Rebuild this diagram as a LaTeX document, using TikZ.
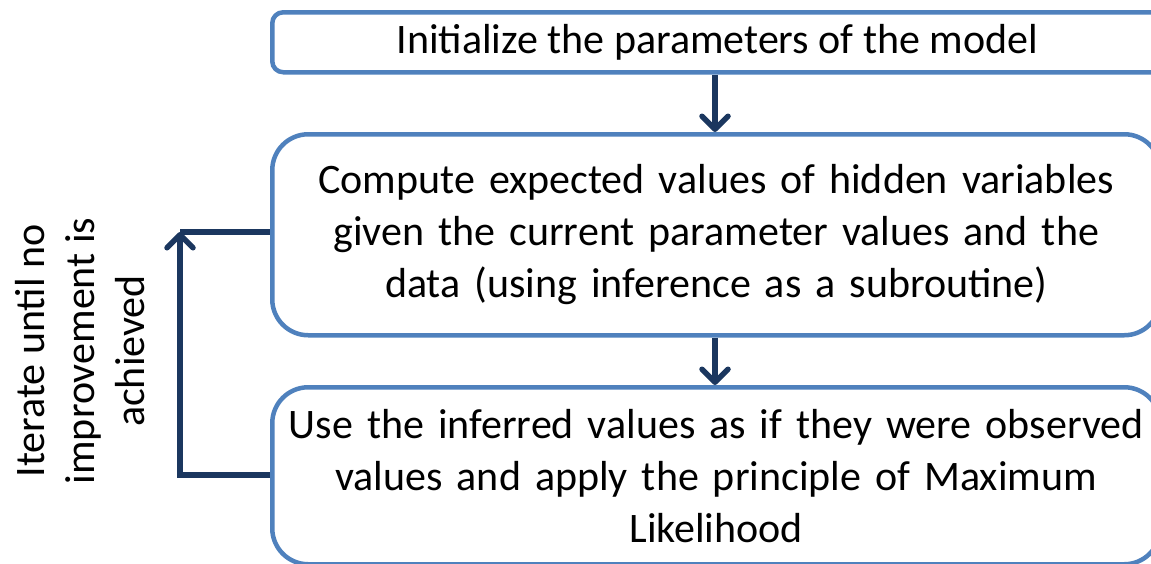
\documentclass[tikz,border=0pt]{standalone}
\usepackage{fontspec}
\setmainfont{Carlito}
\usetikzlibrary{arrows.meta}
\definecolor{boxline}{HTML}{4F81BD}
\definecolor{flowline}{HTML}{1B375F}
\begin{document}
\begin{tikzpicture}[x=1pt,y=-1pt,
  stepbox/.style={draw=boxline, line width=4.5pt, fill=white, align=center,
    anchor=north west, inner sep=0pt,
    font=\fontsize{42}{52}\selectfont},
  flow/.style={draw=flowline, line width=5.5pt},
  arr/.style={flow, -{Straight Barb[length=13pt,width=26pt,round]}},
  note/.style={align=center, font=\fontsize{42}{50}\selectfont}]
  \useasboundingbox (0,0) rectangle (1151,563);
  \begin{scope}
    \clip (0,0) rectangle (1151,563);
    % the three stages of the procedure
    \node[stepbox, rounded corners=11pt, minimum width=890pt, minimum height=60pt]
      (init) at (270,10) {Initialize the parameters of the model};
    \node[stepbox, rounded corners=36pt, minimum width=888pt, minimum height=201pt,
      text width=870pt] (estep) at (270,132)
      {Compute expected values of hidden variables\\
       given the current parameter values and the\\
       data (using inference as a subroutine)};
    \node[stepbox, rounded corners=36pt, minimum width=888pt, minimum height=177pt,
      text width=870pt] (mstep) at (270,385)
      {Use the inferred values as if they were observed\\
       values and apply the principle of Maximum\\
       Likelihood};
    % flow between the stages
    \draw[arr] (init.south -| 715,0) -- (estep.north -| 715,0);
    \draw[arr] (estep.south -| 715,0) -- (mstep.north -| 715,0);
    % loop back
    \coordinate (looptop) at (180,232);
    \draw[arr, line cap=butt] (mstep.west |- 0,475) -- (looptop |- 0,475) -- (looptop);
    \draw[flow] (looptop) -- (estep.west |- looptop);
  \end{scope}
  \node[note, rotate=90] (loopnote) at (80,351)
    {Iterate until no\\ improvement is\\ achieved};
\end{tikzpicture}
\end{document}
